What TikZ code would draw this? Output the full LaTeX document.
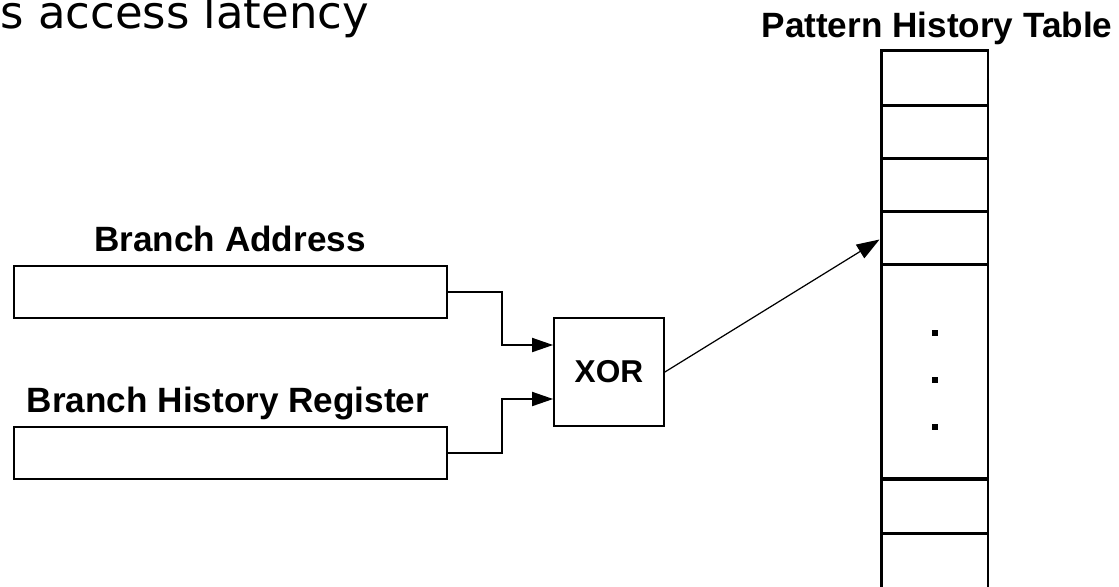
\documentclass[tikz,border=0pt]{standalone}
\usepackage{fontspec}
\setmainfont{Liberation Sans}
\newfontfamily\slidefont{DejaVu Sans}
\usetikzlibrary{arrows.meta}

\begin{document}
\begin{tikzpicture}[x=0.02cm, y=-0.02cm,
  regbox/.style={shape=rectangle, draw=black, line width=1pt, inner sep=0pt, minimum width=8.66cm, minimum height=1.04cm},
  xorbox/.style={shape=rectangle, draw=black, line width=1pt, inner sep=0pt, minimum width=2.2cm, minimum height=2.16cm, font=\fontsize{18}{20}\selectfont\bfseries},
  cell/.style={shape=rectangle, draw=black, line width=1.7pt, inner sep=0pt, minimum width=2.14cm},
  lbl/.style={anchor=base, inner sep=0pt, font=\fontsize{20}{24}\selectfont\bfseries},
  feed/.style={line width=1pt, -{Triangle[length=12pt,width=8pt]}},
  index/.style={line width=0.7pt, -{Triangle[length=13pt,width=9pt]}}]
\useasboundingbox (0,0) rectangle (1119,586);

\node[anchor=base west, inner sep=0pt, font=\slidefont\fontsize{25.6}{30}\selectfont](slide) at (0,28) {s access latency};

\node[lbl](phttitle) at (937,37) {Pattern History Table};
\node[lbl](batitle) at (230,251) {Branch Address};
\node[lbl](bhrtitle) at (228,412) {Branch History Register};

\node[regbox](ba) at (230.5,292) {};
\node[regbox](bhr) at (230.5,453) {};
\node[xorbox](xor) at (609,372) {XOR};

\node[cell, minimum height=1.1cm](pht1) at (934.5,77.5) {};
\node[cell, minimum height=1.06cm](pht2) at (934.5,131.5) {};
\node[cell, minimum height=1.06cm](pht3) at (934.5,184.5) {};
\node[cell, minimum height=1.06cm](pht4) at (934.5,237.5) {};
\node[cell, minimum height=4.3cm](pht5) at (934.5,371.5) {};
\node[cell, minimum height=1.08cm](pht6) at (934.5,506) {};
\node[cell, minimum height=1.2cm](pht7) at (934.5,563) {};

\fill (932,330) rectangle (938,336);
\fill (932,377) rectangle (938,383);
\fill (932,424) rectangle (938,430);

\draw[feed] (ba.east) -- ++(54,0) |- ([shift={(0,-27)}]xor.west);
\draw[feed] (bhr.east) -- ++(54,0) |- ([shift={(0,27)}]xor.west);
\draw[index] (xor.east) -- ([shift={(0,2)}]pht4.west);
\end{tikzpicture}
\end{document}
